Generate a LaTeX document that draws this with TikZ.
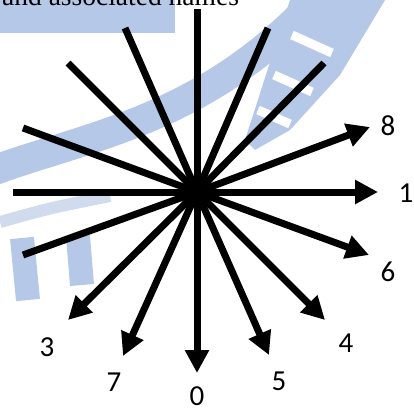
\documentclass[tikz,border=0pt]{standalone}
\usepackage{fontspec}
\setmainfont{Liberation Serif}
\newfontfamily\lblfont{Carlito}
\usetikzlibrary{arrows.meta}
\definecolor{wm}{RGB}{182,200,231}
\definecolor{wmlight}{RGB}{208,219,238}
\begin{document}
\begin{tikzpicture}[x=1pt,y=-1pt,
  ray/.style={line width=7pt, black},
  arr/.style={ray, -{Triangle[length=23pt,width=23pt]}},
  lbl/.style={font=\lblfont\fontsize{29}{29}\selectfont, inner sep=0pt},
  wmband/.style={wm, line width=#1}]
\useasboundingbox (0,0) rectangle (414,407);
% watermark (faint background logo)
\fill[wm] (0,0) rectangle (175,33);
\draw[wmband=30pt] (-5,170) .. controls (90,135) and (210,120) .. (325,-10);
\fill[wm] (290,0) -- (385,0) -- (340,75) -- (290,130) -- (255,150) -- (245,140) -- cycle;
\draw[white, line width=9pt] (292,35) -- (332,53);
\draw[white, line width=9pt] (274,75) -- (312,92);
\draw[white, line width=9pt] (258,110) -- (290,124);
\draw[wmband=24pt] (22,238) -- (28,300);
\draw[wmband=24pt] (78,236) -- (82,285);
\draw[wmlight, line width=12pt] (0,222) .. controls (50,208) .. (110,196);
% title fragment
\node[anchor=base west, inner sep=0pt, font=\fontsize{27.5}{30}\selectfont] (title) at (2,5) {and associated names};
% rays
\coordinate (c) at (197,192);
\coordinate (u0) at (197,9);
\coordinate (u1) at (268,28);
\coordinate (u2) at (324,63);
\coordinate (u3) at (125,28);
\coordinate (u4) at (68,63);
\coordinate (u5) at (23,128);
\coordinate (u6) at (13,192);
\coordinate (u7) at (23,255);
\coordinate (a8) at (370,127);
\coordinate (a1) at (378,192);
\coordinate (a6) at (369,255);
\coordinate (a4) at (325,320);
\coordinate (a5) at (269,355);
\coordinate (a0) at (197,373);
\coordinate (a7) at (123,356);
\coordinate (a3) at (68,320);
\foreach \p in {u0,u1,u2,u3,u4,u5,u6,u7} \draw[ray] (c) -- (\p);
\foreach \p in {a8,a1,a6,a4,a5,a0,a7,a3} \draw[arr] (c) -- (\p);
% labels
\node[lbl] (l8) at (388,126) {8};
\node[lbl] (l1) at (406,193) {1};
\node[lbl] (l6) at (388,272) {6};
\node[lbl] (l4) at (346,343) {4};
\node[lbl] (l5) at (279,381) {5};
\node[lbl] (l0) at (197,396) {0};
\node[lbl] (l7) at (114,382) {7};
\node[lbl] (l3) at (47,347) {3};
\end{tikzpicture}
\end{document}
